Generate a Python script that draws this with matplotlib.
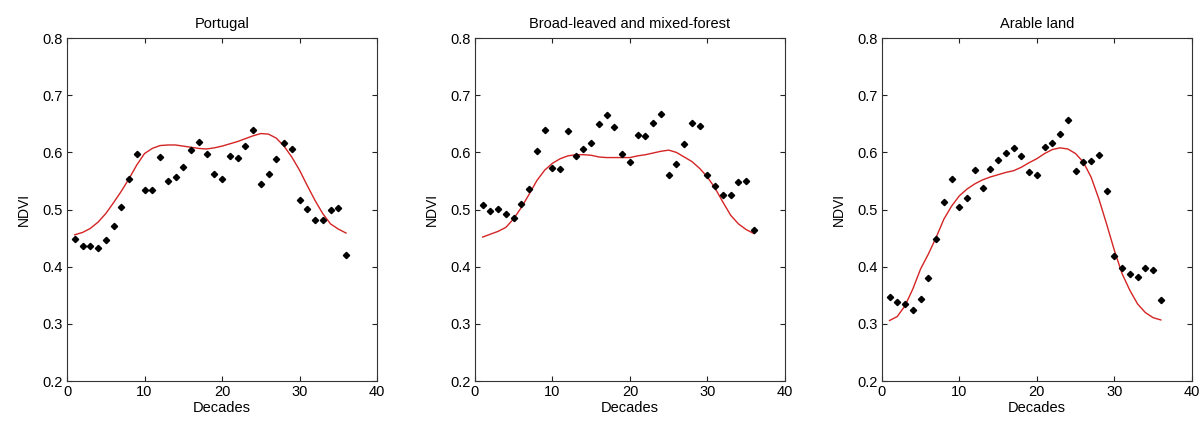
import matplotlib
matplotlib.use("Agg")
import matplotlib.pyplot as plt

plt.rcParams['font.family'] = ['Liberation Sans', 'DejaVu Sans']

decades = list(range(1, 37))

titles = ["Portugal", "Broad-leaved and mixed-forest", "Arable land"]

portugal_obs = [0.448, 0.436, 0.437, 0.432, 0.446, 0.471, 0.505, 0.554, 0.598, 0.534,
                0.534, 0.592, 0.550, 0.557, 0.575, 0.604, 0.618, 0.598, 0.563, 0.554,
                0.594, 0.591, 0.612, 0.639, 0.544, 0.563, 0.588, 0.616, 0.606, 0.516,
                0.501, 0.481, 0.481, 0.499, 0.503, 0.421]
portugal_fit = [0.456, 0.460, 0.467, 0.478, 0.493, 0.512, 0.532, 0.554, 0.578, 0.598,
                0.607, 0.612, 0.613, 0.613, 0.611, 0.609, 0.607, 0.606, 0.608, 0.611,
                0.615, 0.619, 0.624, 0.629, 0.633, 0.632, 0.625, 0.611, 0.592, 0.569,
                0.542, 0.516, 0.493, 0.475, 0.466, 0.459]

forest_obs = [0.508, 0.497, 0.501, 0.493, 0.485, 0.509, 0.536, 0.602, 0.639, 0.573,
              0.571, 0.637, 0.594, 0.606, 0.616, 0.649, 0.665, 0.645, 0.598, 0.583,
              0.630, 0.628, 0.651, 0.667, 0.560, 0.580, 0.614, 0.651, 0.647, 0.560,
              0.542, 0.526, 0.526, 0.549, 0.550, 0.464]
forest_fit = [0.452, 0.457, 0.462, 0.469, 0.484, 0.504, 0.527, 0.551, 0.569, 0.581,
              0.589, 0.594, 0.596, 0.596, 0.595, 0.592, 0.591, 0.591, 0.591, 0.591,
              0.594, 0.596, 0.599, 0.602, 0.604, 0.600, 0.592, 0.584, 0.572, 0.557,
              0.537, 0.513, 0.490, 0.475, 0.465, 0.458]

arable_obs = [0.347, 0.339, 0.335, 0.325, 0.344, 0.380, 0.448, 0.514, 0.554, 0.505,
              0.520, 0.569, 0.538, 0.571, 0.586, 0.599, 0.608, 0.594, 0.565, 0.560,
              0.610, 0.616, 0.632, 0.657, 0.567, 0.583, 0.585, 0.595, 0.532, 0.418,
              0.397, 0.388, 0.382, 0.398, 0.394, 0.342]
arable_fit = [0.306, 0.313, 0.332, 0.361, 0.396, 0.422, 0.451, 0.483, 0.506, 0.524,
              0.536, 0.545, 0.552, 0.557, 0.561, 0.565, 0.568, 0.574, 0.582, 0.589,
              0.598, 0.605, 0.608, 0.606, 0.598, 0.583, 0.557, 0.519, 0.475, 0.429,
              0.388, 0.359, 0.335, 0.320, 0.311, 0.307]

observed = [portugal_obs, forest_obs, arable_obs]
fitted = [portugal_fit, forest_fit, arable_fit]

xticks = [0, 10, 20, 30, 40]
yticks = [0.2, 0.3, 0.4, 0.5, 0.6, 0.7, 0.8]

fig = plt.figure(figsize=(12.03, 4.23), dpi=100)
lefts = [0.0557, 0.3948, 0.7330]
for i in range(3):
    ax = fig.add_axes([lefts[i], 0.099, 0.2577, 0.811])
    ax.plot(decades, fitted[i], color='#d42424', linewidth=1.0)
    ax.plot(decades, observed[i], linestyle='none', marker='D', markersize=3.2,
            color='black')
    ax.set_xlim(0, 40)
    ax.set_ylim(0.2, 0.8)
    ax.set_xticks(xticks)
    ax.set_yticks(yticks)
    ax.set_yticklabels([f"{v:.1f}" for v in yticks])
    ax.tick_params(direction='in', top=True, right=True, length=3.5, width=0.8,
                   labelsize=10.5, pad=3, colors='#222222', labelcolor='black')
    for s in ax.spines.values():
        s.set_linewidth(0.8)
        s.set_color('#333333')
    ax.set_title(titles[i], fontsize=10.5, pad=7)
    ax.set_xlabel("Decades", fontsize=10.5, labelpad=1)
    ax.set_ylabel("NDVI", fontsize=10, labelpad=8)

fig.savefig("out.png", dpi=100)
